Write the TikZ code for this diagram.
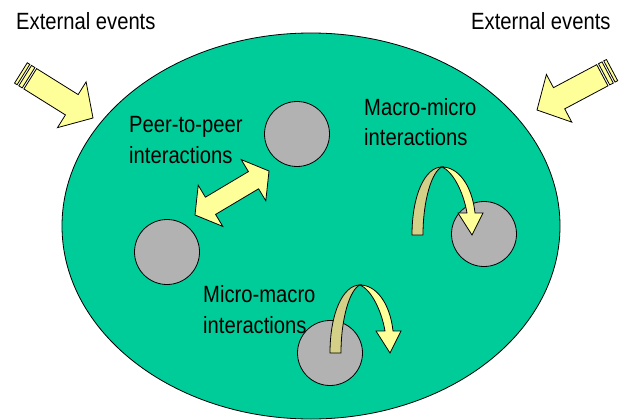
\documentclass[tikz,border=0pt]{standalone}
\usepackage{fontspec}
\usepackage{graphicx}
\setmainfont{Liberation Sans}
\definecolor{world}{HTML}{00CC99}
\definecolor{agent}{HTML}{B2B2B2}
\definecolor{lightyel}{HTML}{FFFF99}
\definecolor{darkyel}{HTML}{D4D088}
\tikzset{
  outl/.style={draw=black, line width=0.8pt, line join=miter},
  agentnode/.style={circle, outl, fill=agent, minimum size=65pt, inner sep=0pt},
  lbl/.style={anchor=base west, inner sep=0pt, font=\fontsize{23.5}{31}\selectfont},
  yelarrow/.style={outl, fill=lightyel},
  bendarrow/.pic={
    \path[outl, fill=darkyel] (0,0) .. controls (0,-40) and (13,-68) .. (30,-68)
       .. controls (20,-64) and (11,-35) .. (11,0) -- cycle;
    \path[outl, fill=lightyel] (30,-68) .. controls (46,-68) and (60,-50) .. (63,-22)
       -- (71,-22) -- (60,0) -- (46,-22) -- (55,-22)
       .. controls (51,-45) and (40,-64) .. (30,-68) -- cycle;
  },
  stripearrow/.pic={
    \path[yelarrow] (0,0) -- (-25,-27) -- (-25,-12) -- (-74,-12) -- (-74,12)
       -- (-25,12) -- (-25,27) -- cycle;
    \path[yelarrow] (-76,-12) rectangle (-80,12);
    \path[yelarrow] (-82,-12) rectangle (-85,12);
  }
}
\newcommand{\sq}[1]{\scalebox{0.86}[1]{#1}}
\begin{document}
\begin{tikzpicture}[x=1pt, y=-1pt]
\useasboundingbox (0,0) rectangle (621,420);
% world
\draw[outl, fill=world] (311,226) ellipse [x radius=249, y radius=193];
% agents
\node[agentnode] (c1) at (297,134) {};
\node[agentnode] (c2) at (167,252) {};
\node[agentnode] (c3) at (484,234) {};
\node[agentnode] (c4) at (330,353) {};
% external event arrows
\pic[rotate=-32] at (93,118) {stripearrow};
\pic[rotate=208] at (537,110) {stripearrow};
% peer-to-peer double arrow
\path[yelarrow] (195,215) -- (222.8,226.4) -- (215.6,214.4) -- (258.6,188.8)
  -- (265.8,200.8) -- (269,171) -- (241.2,159.6) -- (248.4,171.6)
  -- (205.4,197.2) -- (198.2,185.2) -- cycle;
% bent arrows
\pic at (412,235) {bendarrow};
\pic at (330,353) {bendarrow};
% labels
\node[lbl] (ext1) at (16,30) {\sq{External events}};
\node[lbl] (ext2) at (471,30) {\sq{External events}};
\node[lbl] (p2p1) at (129,132) {\sq{Peer-to-peer}};
\node[lbl] (p2p2) at (129,163) {\sq{interactions}};
\node[lbl] (mm1) at (364,115) {\sq{Macro-micro}};
\node[lbl] (mm2) at (364,145) {\sq{interactions}};
\node[lbl] (um1) at (203,302) {\sq{Micro-macro}};
\node[lbl] (um2) at (203,333) {\sq{interactions}};
\end{tikzpicture}
\end{document}
